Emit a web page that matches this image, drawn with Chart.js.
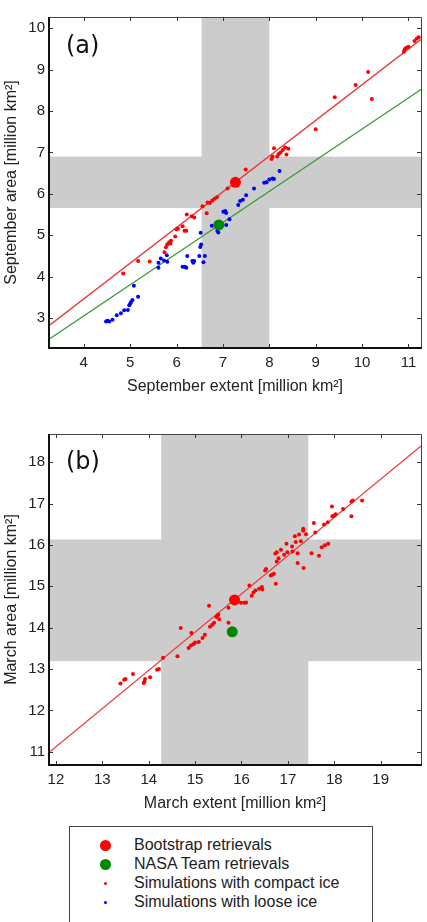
<!DOCTYPE html>
<html>
<head>
<meta charset="utf-8">
<script src="https://cdn.jsdelivr.net/npm/chart.js@4.4.1/dist/chart.umd.min.js"></script>
<style>
  body { margin:0; background:#fff; width:427px; height:922px; position:relative; overflow:hidden;
         font-family:"Liberation Sans", Arial, sans-serif; }
  .panel { position:absolute; left:0; width:427px; height:400px; }
  #wrap-a { top:0; }
  #wrap-b { top:417px; }
  .legend { position:absolute; left:69px; top:826px; width:302px; height:110px; border:1px solid #444; background:#fff; }
  .row { position:absolute; left:0; height:19px; font-size:16px; color:#222; }
  .row span.txt { position:absolute; left:64px; white-space:nowrap; top:-10px; line-height:19px; }
  .dot { position:absolute; border-radius:50%; }
</style>
</head>
<body>

<div class="panel" id="wrap-a"><canvas id="chart-a" width="427" height="400"></canvas></div>
<div class="panel" id="wrap-b"><canvas id="chart-b" width="427" height="400"></canvas></div>

<div class="legend">
  <div class="row" style="top:18px"><div class="dot" style="left:30px;top:-5px;width:11px;height:11px;background:#ff0000"></div><span class="txt">Bootstrap retrievals</span></div>
  <div class="row" style="top:37px"><div class="dot" style="left:30px;top:-5px;width:11px;height:11px;background:#008800"></div><span class="txt">NASA Team retrievals</span></div>
  <div class="row" style="top:56px"><div class="dot" style="left:34px;top:-1px;width:3px;height:3px;background:#ff0000"></div><span class="txt">Simulations with compact ice</span></div>
  <div class="row" style="top:75px"><div class="dot" style="left:34px;top:-1px;width:3px;height:3px;background:#0000ff"></div><span class="txt">Simulations with loose ice</span></div>
</div>

<script>
// ---------------- data: panel (a) September ----------------
const septRange  = { xMin: 3.25, xMax: 11.27, yMin: 2.28, yMax: 10.27 };
const septXTicks = [4, 5, 6, 7, 8, 9, 10, 11];
const septYTicks = [3, 4, 5, 6, 7, 8, 9, 10];
const septBandX  = [6.54, 8.0];
const septBandY  = [5.66, 6.9];
const septBootstrap = [{ x: 7.27, y: 6.28 }];
const septNasaTeam  = [{ x: 6.91, y: 5.25 }];
const septFitBootstrap = [{ x: 3.25, y: 2.82 }, { x: 11.27, y: 9.73 }];
const septFitNasaTeam  = [{ x: 3.25, y: 2.49 }, { x: 11.27, y: 8.52 }];

const septCompactX = [4.85,5.17,5.42,5.74,5.77,5.80,5.84,5.87,5.88,5.97,6.00,6.03,6.13,6.17,6.21,6.22,6.33,6.38,
  6.56,6.65,6.67,6.72,6.77,6.82,6.87,7.10,7.49,8.05,8.07,8.10,8.17,8.20,8.24,8.29,8.34,8.37,8.41,
  9.00,9.41,9.86,10.13,10.21,10.90,10.92,10.95,11.00,11.13,11.18,11.22];
const septCompactY = [4.08,4.38,4.37,4.59,4.71,4.78,4.83,4.80,4.87,4.97,5.14,5.16,5.22,5.11,5.11,5.50,5.46,5.43,
  5.70,5.53,5.79,5.78,5.84,5.88,5.92,6.13,6.59,6.84,6.90,7.10,6.90,6.96,7.00,7.06,7.12,6.95,7.09,
  7.56,8.33,8.63,8.94,8.29,9.43,9.49,9.53,9.55,9.69,9.75,9.78];

const septLooseX = [4.48,4.51,4.55,4.62,4.71,4.80,4.87,4.95,4.98,5.00,5.02,5.05,5.08,5.17,
  5.61,5.61,5.66,5.73,5.79,5.80,6.13,6.18,6.21,6.23,6.34,6.36,6.38,6.49,6.51,6.53,6.52,6.58,6.61,
  6.76,6.88,6.90,7.07,7.01,7.05,7.07,7.14,7.33,7.37,7.43,7.50,7.67,7.89,7.94,8.00,8.07,8.10,8.22];
const septLooseY = [2.92,2.94,2.92,2.96,3.07,3.12,3.19,3.20,3.31,3.35,3.39,3.44,3.78,3.52,
  4.22,4.34,4.44,4.39,4.52,4.36,4.24,4.24,4.22,4.50,4.38,4.34,4.38,4.50,4.72,4.78,5.06,4.35,4.50,
  5.23,5.11,5.07,5.25,5.57,5.59,5.54,5.39,5.73,5.83,5.86,5.97,6.13,6.27,6.28,6.35,6.37,6.36,6.55];

// ---------------- data: panel (b) March ----------------
const marRange  = { xMin: 11.85, xMax: 19.87, yMin: 10.68, yMax: 18.68 };
const marXTicks = [12, 13, 14, 15, 16, 17, 18, 19];
const marYTicks = [11, 12, 13, 14, 15, 16, 17, 18];
const marBandX  = [14.27, 17.44];
const marBandY  = [13.19, 16.13];
const marBootstrap = [{ x: 15.85, y: 14.67 }];
const marNasaTeam  = [{ x: 15.80, y: 13.90 }];
const marFitBootstrap = [{ x: 11.85, y: 10.98 }, { x: 19.87, y: 18.39 }];

const marCompactX = [18.60,18.40,18.37,18.37,18.19,17.95,17.96,18.00,18.03,17.86,17.78,17.56,17.59,17.87,17.80,
  17.73,17.67,17.51,17.33,17.33,17.39,17.24,17.15,17.28,17.17,17.09,17.10,17.21,17.21,17.34,16.97,16.85,
  16.73,16.76,16.80,16.76,16.92,16.99,16.53,16.51,16.66,16.63,16.70,16.74,16.17,16.44,16.45,16.38,16.30,
  16.26,16.22,16.10,16.06,15.99,15.72,15.30,15.72,15.50,15.46,15.52,15.48,15.41,15.37,15.32,15.21,15.16,
  15.08,15.00,14.96,14.91,14.86,14.92,14.69,14.62,14.31,14.22,14.18,14.03,13.92,13.91,13.89,13.66,13.50,
  13.47,13.39];
const marCompactY = [17.07,17.07,17.05,16.69,16.87,16.93,16.69,16.71,16.74,16.55,16.49,16.53,16.30,16.03,15.99,
  15.94,15.74,15.80,16.39,16.34,16.26,16.25,16.21,16.09,16.07,15.96,15.84,15.80,15.56,15.44,16.03,15.88,
  15.79,15.82,15.68,15.60,15.76,15.82,15.42,15.38,15.28,15.26,15.30,15.06,15.02,14.98,14.92,14.94,14.90,
  14.85,14.77,14.61,14.60,14.60,14.48,14.53,14.12,14.32,14.26,14.20,14.29,14.12,14.07,14.02,13.83,13.75,
  13.65,13.64,13.60,13.57,13.51,13.87,13.99,13.31,13.27,13.00,12.98,12.80,12.76,12.70,12.66,12.88,12.76,
  12.74,12.65];

// ---------------- helpers ----------------
const TEXT = '#222';
Chart.defaults.font.family = '"Liberation Sans", Arial, sans-serif';
Chart.defaults.font.size = 15;
Chart.defaults.color = TEXT;

function pts(xs, ys) { return xs.map((x, i) => ({ x, y: ys[i] })); }

// grey bands, frame, inward ticks and the (a)/(b) tag
const framePlugin = {
  id: 'frame',
  beforeDatasetsDraw(chart, args, o) {
    const { ctx, chartArea: a, scales: { x, y } } = chart;
    ctx.save();
    ctx.fillStyle = '#cccccc';
    const x0 = x.getPixelForValue(o.bandX[0]), x1 = x.getPixelForValue(o.bandX[1]);
    const y0 = y.getPixelForValue(o.bandY[1]), y1 = y.getPixelForValue(o.bandY[0]);
    ctx.fillRect(x0, a.top, x1 - x0, a.bottom - a.top);
    ctx.fillRect(a.left, y0, a.right - a.left, y1 - y0);
    ctx.restore();
  },
  afterDatasetsDraw(chart, args, o) {
    const { ctx, chartArea: a, scales: { x, y } } = chart;
    const L = Math.round(a.left), R = Math.round(a.right), T = Math.round(a.top), B = Math.round(a.bottom);
    ctx.save();
    ctx.strokeStyle = '#333';
    ctx.lineWidth = 1;
    ctx.beginPath();
    x.ticks.forEach(t => {
      const p = Math.round(x.getPixelForValue(t.value)) + 0.5;
      ctx.moveTo(p, B); ctx.lineTo(p, B - 4);
      ctx.moveTo(p, T); ctx.lineTo(p, T + 4);
    });
    y.ticks.forEach(t => {
      const p = Math.round(y.getPixelForValue(t.value)) + 0.5;
      ctx.moveTo(L, p); ctx.lineTo(L + 4, p);
      ctx.moveTo(R, p); ctx.lineTo(R - 4, p);
    });
    ctx.stroke();
    // top / right edges thin, left / bottom heavier
    ctx.strokeStyle = '#444';
    ctx.beginPath();
    ctx.moveTo(L, T + 0.5); ctx.lineTo(R + 0.5, T + 0.5); ctx.lineTo(R + 0.5, B);
    ctx.stroke();
    ctx.strokeStyle = '#111';
    ctx.lineWidth = 2;
    ctx.beginPath();
    ctx.moveTo(L, T); ctx.lineTo(L, B); ctx.lineTo(R + 1, B);
    ctx.stroke();
    ctx.fillStyle = '#111';
    ctx.font = '24px "DejaVu Sans"';
    ctx.textBaseline = 'middle';
    ctx.fillText(o.tag, a.left + 17, a.top + o.tagY);
    ctx.restore();
  }
};

function makePanel(id, cfg) {
  const datasets = [
    { data: cfg.bootstrap, pointRadius: 5.5, backgroundColor: '#ff0000', borderWidth: 0 },
  ];
  if (cfg.nasa) datasets.push({ data: cfg.nasa, pointRadius: 5.5, backgroundColor: '#008800', borderWidth: 0 });
  datasets.push({ data: cfg.compact, pointRadius: 2, backgroundColor: '#ff0000', borderWidth: 0 });
  if (cfg.loose) datasets.push({ data: cfg.loose, pointRadius: 2, backgroundColor: '#0000ff', borderWidth: 0 });
  datasets.push({ type: 'line', data: cfg.fitB, borderColor: '#e83c3c', borderWidth: 1.3, pointRadius: 0, fill: false });
  if (cfg.fitN) datasets.push({ type: 'line', data: cfg.fitN, borderColor: '#389838', borderWidth: 1.3, pointRadius: 0, fill: false });

  const r = cfg.range;
  return new Chart(document.getElementById(id), {
    type: 'scatter',
    data: { datasets },
    plugins: [framePlugin],
    options: {
      responsive: false,
      animation: false,
      devicePixelRatio: 1,
      layout: { padding: { top: 17, right: 6, left: 0, bottom: 0 } },
      plugins: {
        legend: { display: false },
        tooltip: { enabled: false },
        frame: { bandX: cfg.bandX, bandY: cfg.bandY, tag: cfg.tag, tagY: cfg.tagY }
      },
      scales: {
        x: {
          type: 'linear', min: r.xMin, max: r.xMax,
          grid: { display: false, drawTicks: false },
          border: { display: false },
          ticks: { padding: 6, color: TEXT },
          afterBuildTicks: s => { s.ticks = cfg.xTicks.map(v => ({ value: v })); },
          title: { display: true, text: cfg.xTitle, color: TEXT, font: { size: 16 }, padding: { top: 0, bottom: 4 } },
          afterFit: s => { s.height = 52; }
        },
        y: {
          type: 'linear', min: r.yMin, max: r.yMax,
          grid: { display: false, drawTicks: false },
          border: { display: false },
          ticks: { padding: 4, color: TEXT },
          afterBuildTicks: s => { s.ticks = cfg.yTicks.map(v => ({ value: v })); },
          title: { display: true, text: cfg.yTitle, color: TEXT, font: { size: 16 }, padding: { top: 2, bottom: 0 } },
          afterFit: s => { s.width = 49; }
        }
      }
    }
  });
}

makePanel('chart-a', {
  range: septRange, xTicks: septXTicks, yTicks: septYTicks, bandX: septBandX, bandY: septBandY,
  bootstrap: septBootstrap, nasa: septNasaTeam,
  compact: pts(septCompactX, septCompactY), loose: pts(septLooseX, septLooseY),
  fitB: septFitBootstrap, fitN: septFitNasaTeam,
  tag: '(a)', tagY: 30,
  xTitle: 'September extent [million km²]', yTitle: 'September area [million km²]'
});

makePanel('chart-b', {
  range: marRange, xTicks: marXTicks, yTicks: marYTicks, bandX: marBandX, bandY: marBandY,
  bootstrap: marBootstrap, nasa: marNasaTeam,
  compact: pts(marCompactX, marCompactY), loose: null,
  fitB: marFitBootstrap, fitN: null,
  tag: '(b)', tagY: 29,
  xTitle: 'March extent [million km²]', yTitle: 'March area [million km²]'
});
</script>
</body>
</html>
